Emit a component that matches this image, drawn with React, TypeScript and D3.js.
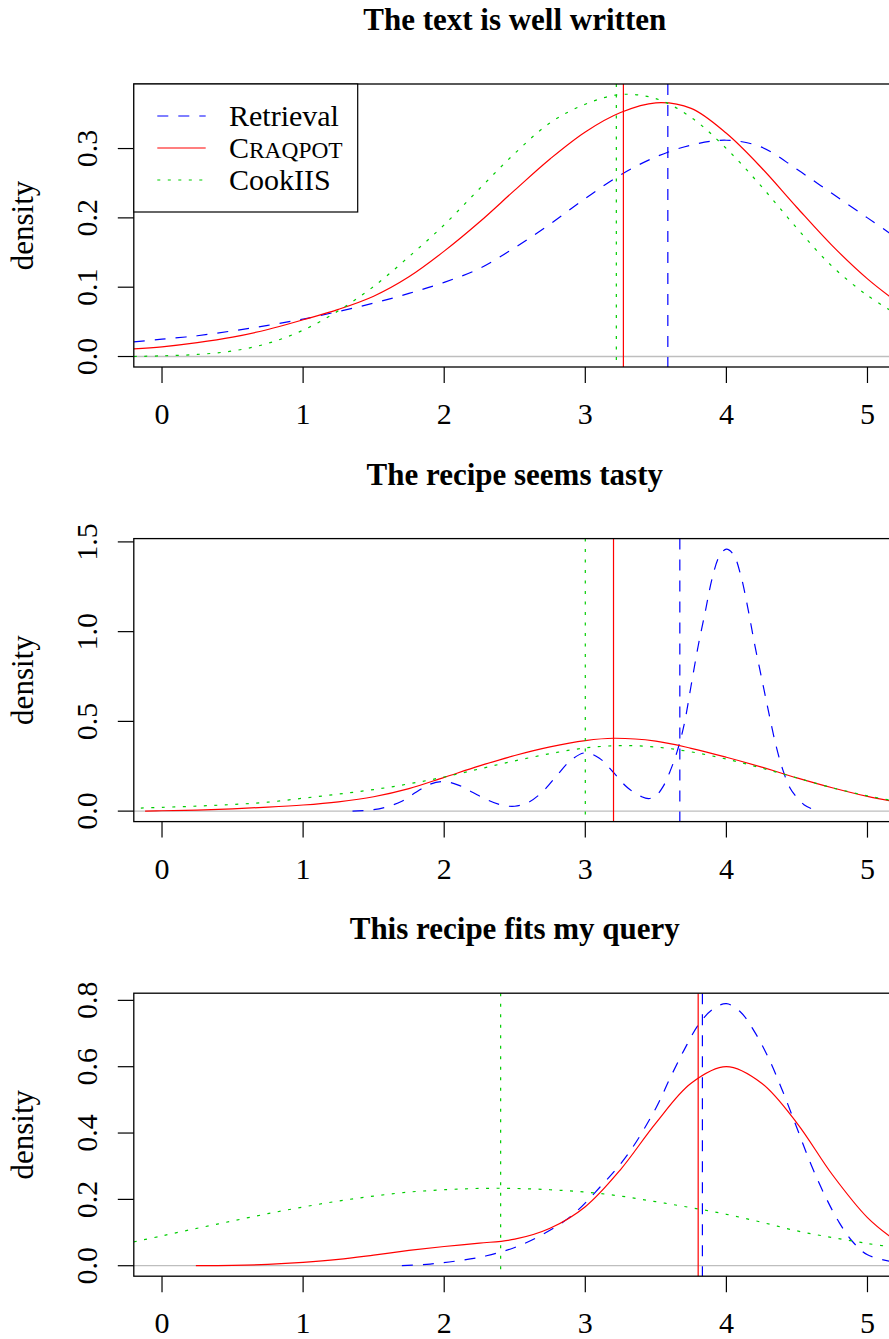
import React from 'react';
import * as d3 from 'd3';

type Pt = [number, number];

// panel titles, axis ticks, series names
const titles = ['The text is well written', 'The recipe seems tasty', 'This recipe fits my query'];
const xTicks = [0, 1, 2, 3, 4, 5];
const yTicks = [
  [0, 0.1, 0.2, 0.3],
  [0, 0.5, 1.0, 1.5],
  [0, 0.2, 0.4, 0.6, 0.8],
];
const seriesNames = ['Retrieval', 'Craqpot', 'CookIIS'];

// density curves, [score, density]
const textRetrieval: Pt[] = [
  [-0.2, 0.021], [0, 0.025], [0.25, 0.03], [0.5, 0.037], [0.75, 0.045], [1.0, 0.054], [1.25, 0.065],
  [1.5, 0.077], [1.75, 0.091], [2.0, 0.107], [2.25, 0.127], [2.5, 0.157], [2.75, 0.191], [3.0, 0.228],
  [3.25, 0.262], [3.5, 0.288], [3.75, 0.305], [4.0, 0.312], [4.25, 0.302], [4.5, 0.27], [4.75, 0.235],
  [5.0, 0.2], [5.2, 0.172],
];
const textCraqpot: Pt[] = [
  [-0.2, 0.011], [0, 0.014], [0.25, 0.02], [0.5, 0.028], [0.75, 0.039], [1.0, 0.053], [1.25, 0.068],
  [1.5, 0.087], [1.75, 0.115], [2.0, 0.152], [2.25, 0.194], [2.5, 0.24], [2.75, 0.285], [3.0, 0.324],
  [3.25, 0.352], [3.5, 0.366], [3.75, 0.358], [4.0, 0.322], [4.25, 0.272], [4.5, 0.215], [4.75, 0.16],
  [5.0, 0.112], [5.2, 0.08],
];
const textCookIIS: Pt[] = [
  [-0.2, 0.0], [0, 0.001], [0.25, 0.003], [0.5, 0.008], [0.75, 0.019], [1.0, 0.038], [1.25, 0.066],
  [1.5, 0.101], [1.75, 0.144], [2.0, 0.19], [2.25, 0.242], [2.5, 0.293], [2.75, 0.337], [3.0, 0.364],
  [3.25, 0.378], [3.5, 0.372], [3.75, 0.345], [4.0, 0.3], [4.25, 0.245], [4.5, 0.185], [4.75, 0.13],
  [5.0, 0.088], [5.2, 0.062],
];

const tastyRetrieval: Pt[] = [
  [1.35, 0.0], [1.5, 0.008], [1.6, 0.025], [1.7, 0.055], [1.8, 0.105], [1.9, 0.15], [2.0, 0.165],
  [2.1, 0.145], [2.2, 0.105], [2.3, 0.065], [2.4, 0.035], [2.5, 0.027], [2.6, 0.05], [2.7, 0.11],
  [2.8, 0.2], [2.9, 0.285], [3.0, 0.325], [3.1, 0.295], [3.2, 0.215], [3.3, 0.13], [3.4, 0.08],
  [3.45, 0.07], [3.5, 0.085], [3.55, 0.135], [3.6, 0.22], [3.65, 0.33], [3.7, 0.48], [3.75, 0.7],
  [3.8, 0.92], [3.85, 1.11], [3.9, 1.3], [3.95, 1.42], [4.0, 1.46], [4.05, 1.43], [4.1, 1.32],
  [4.15, 1.14], [4.2, 0.93], [4.25, 0.74], [4.3, 0.55], [4.35, 0.37], [4.4, 0.23], [4.45, 0.13],
  [4.5, 0.075], [4.55, 0.036], [4.6, 0.015],
];
const tastyCraqpot: Pt[] = [
  [-0.12, 0.0], [0, 0.002], [0.25, 0.006], [0.5, 0.013], [0.75, 0.022], [1.0, 0.034], [1.25, 0.052],
  [1.5, 0.08], [1.75, 0.125], [2.0, 0.188], [2.25, 0.252], [2.5, 0.31], [2.75, 0.358], [3.0, 0.393],
  [3.2, 0.406], [3.5, 0.39], [3.75, 0.35], [4.0, 0.3], [4.25, 0.245], [4.5, 0.185], [4.75, 0.13],
  [5.0, 0.082], [5.2, 0.052],
];
const tastyCookIIS: Pt[] = [
  [-0.15, 0.017], [0, 0.021], [0.25, 0.028], [0.5, 0.037], [0.75, 0.05], [1.0, 0.072], [1.25, 0.095],
  [1.5, 0.12], [1.75, 0.152], [2.0, 0.19], [2.25, 0.235], [2.5, 0.28], [2.75, 0.32], [3.0, 0.352],
  [3.25, 0.365], [3.5, 0.357], [3.75, 0.33], [4.0, 0.29], [4.25, 0.24], [4.5, 0.185], [4.75, 0.13],
  [5.0, 0.085], [5.2, 0.055],
];

const queryRetrieval: Pt[] = [
  [1.7, 0.0], [1.9, 0.005], [2.1, 0.015], [2.3, 0.03], [2.5, 0.055], [2.7, 0.095], [2.9, 0.15],
  [3.1, 0.235], [3.3, 0.335], [3.5, 0.475], [3.6, 0.565], [3.7, 0.65], [3.8, 0.725], [3.9, 0.772],
  [4.0, 0.79], [4.1, 0.765], [4.2, 0.705], [4.3, 0.625], [4.4, 0.525], [4.5, 0.415], [4.6, 0.305],
  [4.7, 0.21], [4.8, 0.13], [4.9, 0.07], [5.0, 0.033], [5.2, 0.01],
];
const queryCraqpot: Pt[] = [
  [0.24, 0.0], [0.5, 0.001], [0.75, 0.004], [1.0, 0.01], [1.25, 0.019], [1.5, 0.032], [1.75, 0.046],
  [2.0, 0.058], [2.25, 0.068], [2.5, 0.08], [2.75, 0.113], [3.0, 0.178], [3.25, 0.29], [3.5, 0.43],
  [3.75, 0.55], [4.0, 0.6], [4.25, 0.55], [4.5, 0.43], [4.75, 0.275], [5.0, 0.145], [5.2, 0.075],
];
const queryCookIIS: Pt[] = [
  [-0.2, 0.072], [0, 0.09], [0.25, 0.113], [0.5, 0.135], [0.75, 0.157], [1.0, 0.177], [1.25, 0.195],
  [1.5, 0.21], [1.75, 0.222], [2.0, 0.229], [2.25, 0.233], [2.5, 0.233], [2.75, 0.229], [3.0, 0.222],
  [3.25, 0.21], [3.5, 0.193], [3.75, 0.175], [4.0, 0.155], [4.25, 0.131], [4.5, 0.105], [4.75, 0.085],
  [5.0, 0.067], [5.2, 0.055],
];

// mean lines (Retrieval, Craqpot, CookIIS)
const textMeans = [3.585, 3.27, 3.22];
const tastyMeans = [3.67, 3.2, 3.0];
const queryMeans = [3.83, 3.8, 2.4];

const panels = [
  { curves: [textRetrieval, textCraqpot, textCookIIS], means: textMeans },
  { curves: [tastyRetrieval, tastyCraqpot, tastyCookIIS], means: tastyMeans },
  { curves: [queryRetrieval, queryCraqpot, queryCookIIS], means: queryMeans },
];

const styles = [
  { color: '#0000FF', dash: '11,10' },
  { color: '#FF0000', dash: undefined },
  { color: '#00CD00', dash: '3,7.5' },
];

const W = 889;
const H = 1339;
const left = 133.8;
const right = 895.7;
const top0 = 84;
const boxH = 283;
const step = 454.6;
const fs = 30;

const x = d3.scaleLinear().domain([-0.2, 5.2]).range([left, right]);

function Panel({ i }: { i: number }) {
  const p = panels[i];
  const top = top0 + i * step;
  const bottom = top + boxH;
  const m = d3.max(p.curves.flat(), (d) => d[1]) as number;
  // R-style 4% padding on y
  const y = d3.scaleLinear().domain([-0.04 * m, 1.04 * m]).range([bottom, top]);
  const line = d3.line<Pt>().x((d) => x(d[0])).y((d) => y(d[1])).curve(d3.curveCatmullRom);
  const clipId = `clip${i}`;
  const cy = (top + bottom) / 2;

  return (
    <g>
      <defs>
        <clipPath id={clipId}>
          <rect x={left} y={top} width={right - left} height={boxH} />
        </clipPath>
      </defs>
      <text x={(left + right) / 2} y={top - 54} textAnchor="middle" fontWeight="bold" fontSize={fs + 1}>
        {titles[i]}
      </text>
      <text x={33} y={cy} textAnchor="middle" fontSize={fs + 1} transform={`rotate(-90, 33, ${cy})`}>
        density
      </text>

      <g clipPath={`url(#${clipId})`}>
        <line x1={left} x2={right} y1={y(0)} y2={y(0)} stroke="#BEBEBE" strokeWidth={1.3} />
        {p.curves.map((c, k) => (
          <path key={k} d={line(c) || ''} fill="none" stroke={styles[k].color}
            strokeWidth={1.2} strokeDasharray={styles[k].dash} />
        ))}
        {p.means.map((v, k) => (
          <line key={k} x1={x(v)} x2={x(v)} y1={top} y2={bottom} stroke={styles[k].color}
            strokeWidth={1.2} strokeDasharray={styles[k].dash} />
        ))}
      </g>

      <rect x={left} y={top} width={right - left} height={boxH} fill="none" stroke="#000" strokeWidth={1.3} />

      {xTicks.map((t) => (
        <g key={t}>
          <line x1={x(t)} x2={x(t)} y1={bottom} y2={bottom + 16} stroke="#000" strokeWidth={1.2} />
          <text x={x(t)} y={bottom + 57} textAnchor="middle" fontSize={fs}>{t}</text>
        </g>
      ))}
      {yTicks[i].map((t) => (
        <g key={t}>
          <line x1={left - 16} x2={left} y1={y(t)} y2={y(t)} stroke="#000" strokeWidth={1.2} />
          <text x={97} y={y(t)} textAnchor="middle" fontSize={fs}
            transform={`rotate(-90, 97, ${y(t)})`}>{t.toFixed(1)}</text>
        </g>
      ))}

      {i === 0 && (
        <g>
          <rect x={left} y={top} width={357.7 - left} height={212 - top} fill="#fff" stroke="#000" strokeWidth={1.2} />
          {seriesNames.map((n, k) => {
            const ly = 116 + k * 32;
            return (
              <g key={n}>
                <line x1={157.3} x2={205.7} y1={ly} y2={ly} stroke={styles[k].color}
                  strokeWidth={1.2} strokeDasharray={styles[k].dash} />
                {n === 'Craqpot' ? (
                  <text x={229} y={ly + 10} fontSize={fs}>
                    C<tspan fontSize={fs * 0.78}>RAQPOT</tspan>
                  </text>
                ) : (
                  <text x={229} y={ly + 10} fontSize={fs}>{n}</text>
                )}
              </g>
            );
          })}
        </g>
      )}
    </g>
  );
}

export default function App() {
  return (
    <svg width={W} height={H} viewBox={`0 0 ${W} ${H}`}
      style={{ position: 'absolute', left: 0, top: 0, background: '#fff' }}
      fontFamily="'Liberation Serif', serif">
      <rect width={W} height={H} fill="#fff" />
      {panels.map((_, i) => <Panel key={i} i={i} />)}
    </svg>
  );
}
